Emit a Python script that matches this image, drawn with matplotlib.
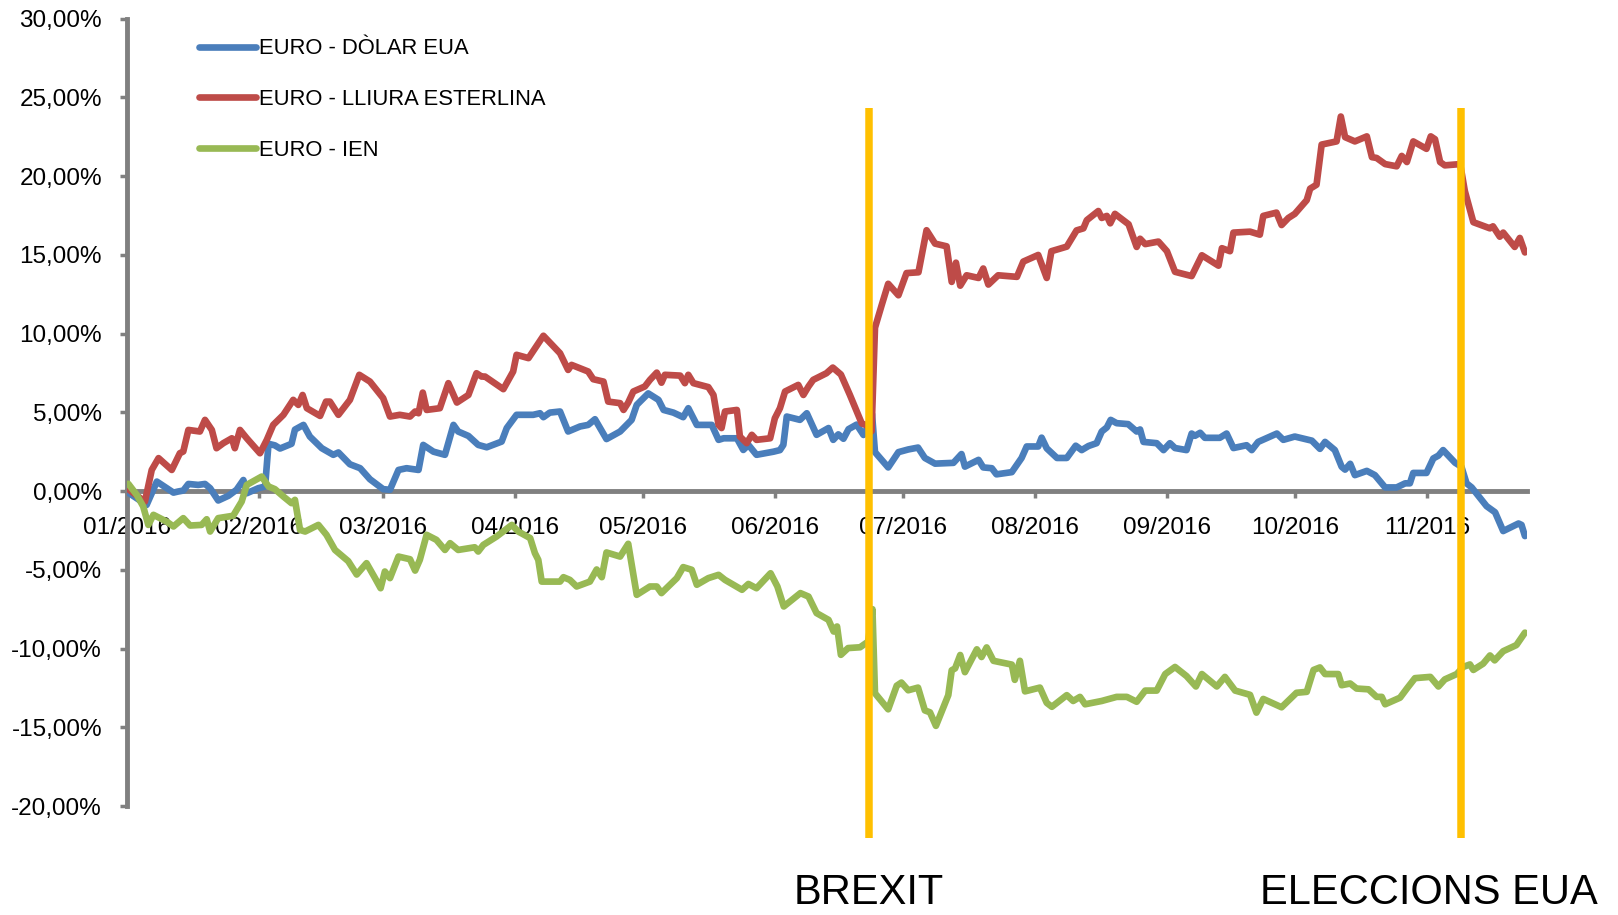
import pandas as pd
import matplotlib
matplotlib.use("Agg")
import matplotlib.pyplot as plt
import matplotlib.dates as mdates
import matplotlib.transforms as mtransforms
from matplotlib import font_manager

# Series: days since 1 Jan 2016, change vs start in %
usd_days = [0.3, 4.6, 7, 10.9, 12, 13.2, 14.4, 16.7, 18.3, 19.5, 21.4, 23.8, 25.7, 27.3, 28.1, 30.8, 32.4, 33.2,
            34.7, 35.9, 38.6, 39.4, 41.4, 42.9, 45.7, 48.4, 49.6, 52.3, 54.7, 57, 60.1, 61.7, 63.7, 65.6, 68.4,
            69.5, 71.9, 74.6, 76.6, 77.7, 80.1, 82.4, 84.4, 87.9, 89.1, 91.4, 95.3, 96.9, 97.7, 99.2, 101.6,
            103.5, 106.3, 108.2, 109.8, 111, 112.5, 115.7, 118.4, 119.6, 122.3, 124.7, 125.9, 128.2, 130.5,
            131.7, 133.7, 137.2, 138.8, 140, 143.1, 144.6, 145.8, 147.7, 151.7, 153.2, 154, 154.8, 157.9, 159.5,
            161.8, 164.6, 165.7, 166.9, 168.1, 169.3, 171.2, 172.8, 174, 174.8, 175.5, 178.6, 181, 183.3, 185.6,
            187.2, 189.6, 193.9, 195.8, 196.6, 199.8, 200.9, 202.9, 204, 207.6, 209.9, 211.1, 213.8, 214.6,
            215.8, 218.2, 220.5, 222.6, 224, 225.6, 227.5, 228.7, 229.9, 230.8, 232.2, 234.9, 236.9, 237.7,
            238.5, 241.6, 243.2, 244.7, 245.9, 248.6, 249.8, 250.6, 251.8, 252.9, 256.4, 258, 259.6, 262.7,
            263.9, 265.4, 269.8, 271.3, 274, 278, 279.9, 281.1, 283.4, 285, 285.8, 287, 288.1, 290.9, 292.8,
            295.2, 297.9, 299.9, 301, 301.8, 304.9, 306.5, 307.7, 308.8, 311.6, 313.1, 314.3, 315.5, 319, 321,
            322.9, 326.5, 327.2, 328]
usd_vals = [-0.1, -0.88, 0.6, -0.1, -0.03, 0.03, 0.45, 0.39, 0.45, 0.18, -0.6, -0.3, 0.08, 0.7, -0.14, 0.18, 0.29,
            3.0, 2.9, 2.7, 3.0, 3.9, 4.2, 3.46, 2.72, 2.3, 2.45, 1.7, 1.45, 0.75, 0.12, 0.08, 1.34, 1.45, 1.34,
            2.93, 2.5, 2.3, 4.2, 3.78, 3.5, 2.93, 2.78, 3.14, 4.0, 4.84, 4.84, 4.94, 4.69, 4.98, 5.05, 3.78, 4.1,
            4.2, 4.56, 4.0, 3.3, 3.78, 4.52, 5.47, 6.2, 5.79, 5.15, 4.98, 4.69, 5.26, 4.2, 4.2, 3.25, 3.35, 3.35,
            2.61, 2.93, 2.3, 2.5, 2.6, 2.93, 4.73, 4.52, 4.94, 3.57, 4.0, 3.25, 3.6, 3.32, 3.93, 4.22, 3.56, 4.17,
            4.9, 2.47, 1.5, 2.47, 2.64, 2.76, 2.1, 1.74, 1.79, 2.35, 1.55, 1.98, 1.5, 1.45, 1.06, 1.2, 2.1, 2.83,
            2.83, 3.39, 2.71, 2.1, 2.1, 2.88, 2.6, 2.86, 3.04, 3.78, 4.04, 4.52, 4.31, 4.25, 3.78, 3.91, 3.12,
            3.04, 2.6, 3.04, 2.73, 2.6, 3.65, 3.51, 3.7, 3.38, 3.38, 3.65, 2.73, 2.91, 2.6, 3.12, 3.65, 3.25,
            3.46, 3.2, 2.68, 3.12, 2.6, 1.54, 1.36, 1.73, 1.01, 1.28, 1.01, 0.23, 0.23, 0.49, 0.49, 1.15, 1.15,
            2.07, 2.25, 2.6, 1.8, 1.54, 0.49, 0.23, -0.96, -1.35, -2.54, -2.06, -2.15, -2.86]

gbp_days = [0.3, 4.2, 5.8, 7.4, 10.5, 12.4, 13.2, 14.4, 17.1, 18.3, 19.9, 21, 22.6, 24.6, 25.3, 26.5, 28.1, 31.2,
            32.8, 34.3, 36.7, 39, 40.2, 41.2, 42.2, 45.3, 46.7, 47.6, 49.6, 52.3, 54.5, 57, 60.1, 61.7, 64, 66.4,
            67.6, 68.4, 69.4, 70.3, 73.4, 75.4, 77.4, 80.1, 82, 83.2, 84, 88.3, 90.6, 91.4, 94.2, 97.7, 101.6,
            103.5, 104.3, 108.2, 109.4, 111.8, 112.9, 115.7, 116.5, 117.6, 118.8, 121.5, 122.7, 124.3, 125.4,
            126.2, 129.8, 130.9, 131.7, 132.9, 136.4, 137.6, 138.8, 139.5, 140.3, 143.1, 143.8, 145.4, 146.6,
            147.7, 150.9, 152, 153.2, 154.4, 157.5, 158.7, 159.9, 161, 164.1, 165.6, 167.5, 169.6, 172.4, 173.6,
            174.7, 175.5, 177.1, 178.6, 181, 182.9, 185.7, 187.6, 189.6, 192.3, 193.5, 194.5, 195.5, 197, 199.8,
            200.9, 202.1, 204.4, 208.8, 210.3, 213.8, 215.8, 216.9, 220.5, 222.8, 224.4, 225.2, 227.9, 228.7,
            229.9, 230.7, 231.8, 235, 236.9, 237.7, 238.9, 242, 244, 245.9, 249.8, 252.2, 256.1, 256.9, 258.8,
            259.6, 263.5, 265.8, 266.6, 269.7, 270.9, 272.5, 274, 276.8, 277.6, 279.1, 280.3, 283.8, 284.8,
            285.8, 288.1, 290.9, 292.1, 293.2, 295.2, 297.9, 299.1, 300.3, 301.8, 304.9, 305.9, 306.9, 308.1,
            309.2, 312.8, 313.9, 315.9, 319.8, 320.5, 322.1, 322.9, 325.6, 326.8, 328]
gbp_vals = [0.12, -0.67, 1.34, 2.09, 1.34, 2.4, 2.51, 3.88, 3.78, 4.52, 3.88, 2.72, 3.04, 3.35, 2.72, 3.88, 3.35,
            2.4, 3.25, 4.2, 4.84, 5.79, 5.47, 6.1, 5.26, 4.77, 5.68, 5.68, 4.84, 5.79, 7.38, 6.95, 5.9, 4.73, 4.84,
            4.73, 5.05, 4.94, 6.25, 5.15, 5.26, 6.85, 5.62, 6.1, 7.48, 7.27, 7.27, 6.47, 7.59, 8.65, 8.44, 9.86,
            8.75, 7.69, 8.01, 7.59, 7.1, 6.95, 5.68, 5.58, 5.15, 5.62, 6.32, 6.64, 7.06, 7.52, 6.88, 7.38, 7.33,
            6.85, 7.38, 6.85, 6.6, 6.1, 4.2, 4.0, 5.05, 5.15, 3.46, 3.04, 3.57, 3.25, 3.35, 4.62, 5.26, 6.32,
            6.74, 6.1, 6.64, 7.06, 7.48, 7.84, 7.4, 6.11, 4.29, 4.17, 3.8, 10.37, 11.83, 13.16, 12.43, 13.84,
            13.89, 16.56, 15.71, 15.54, 13.28, 14.5, 13.04, 13.7, 13.53, 14.13, 13.11, 13.7, 13.6, 14.57, 14.99,
            13.53, 15.23, 15.52, 16.55, 16.68, 17.2, 17.78, 17.34, 17.47, 17.0, 17.6, 16.94, 15.5, 16.02, 15.68,
            15.84, 15.23, 13.92, 13.65, 14.97, 14.31, 15.42, 15.23, 16.41, 16.47, 16.28, 17.47, 17.68, 16.89,
            17.34, 17.6, 18.47, 19.2, 19.45, 22.0, 22.2, 23.78, 22.47, 22.2, 22.52, 21.2, 21.15, 20.76, 20.62,
            21.28, 20.89, 22.2, 21.73, 22.52, 22.34, 20.89, 20.68, 20.76, 19.05, 17.07, 16.68, 16.81, 16.15,
            16.41, 15.5, 16.07, 15.15]

jpy_days = [0.3, 2.3, 3.8, 5, 6.2, 9.3, 10.9, 13.2, 14.8, 17.5, 18.7, 19.5, 21.4, 24.9, 26.9, 28.1, 31.6, 33.2,
            34.7, 36.7, 38.6, 39.4, 40.6, 41.8, 44.9, 46.8, 48.8, 51.9, 53.9, 56.2, 58.2, 59.5, 60.5, 61.7, 63.7,
            66.4, 67.6, 68.7, 70.3, 72.6, 74.6, 75.8, 77.7, 81.6, 82.4, 83.6, 86.7, 90.3, 91.8, 94.6, 95.7, 96.5,
            97.3, 101.6, 102.4, 103.9, 105.5, 108.6, 110.2, 111.4, 112.5, 115.7, 117.6, 119.6, 122.7, 124.3,
            125.4, 129, 130.5, 132.5, 133.7, 136.4, 138.8, 140.3, 144.3, 145.8, 147.7, 151, 152.6, 154.1, 158,
            159.9, 161.8, 164.6, 165.8, 166.6, 167.5, 169.2, 172, 173.9, 174.9, 175.5, 178.6, 180.6, 181.7, 183.3,
            185.6, 187.2, 188.4, 189.8, 192.7, 193.5, 194.3, 195.5, 196.6, 199.4, 200.5, 201.7, 203.3, 207.6,
            208.3, 209.5, 210.7, 214.2, 215.8, 217, 220.5, 222, 223.6, 224.8, 228.7, 232.2, 234.6, 236.9, 238.9,
            241.6, 243.6, 245.9, 248.6, 250.8, 252.2, 255.7, 257.6, 260, 263.5, 265, 266.6, 270.9, 274.4, 276.8,
            278.4, 279.9, 281.1, 284.2, 285, 287, 288.5, 291.3, 293.2, 294.4, 295.2, 298.7, 300.3, 302.2, 305.8,
            307.7, 309.2, 312, 313.5, 315.1, 315.9, 318.2, 319.8, 320.9, 322.9, 326, 328]
jpy_vals = [0.46, -0.25, -0.98, -2.15, -1.51, -1.94, -2.25, -1.72, -2.19, -2.15, -1.79, -2.57, -1.72, -1.57, -0.67,
            0.39, 0.92, 0.29, 0.12, -0.35, -0.77, -0.56, -2.47, -2.57, -2.15, -2.78, -3.74, -4.45, -5.3, -4.58,
            -5.53, -6.17, -5.11, -5.53, -4.16, -4.33, -5.05, -4.37, -2.78, -3.1, -3.74, -3.31, -3.74, -3.57, -3.84,
            -3.42, -2.89, -2.15, -2.57, -2.99, -3.94, -4.37, -5.75, -5.75, -5.47, -5.64, -6.06, -5.75, -4.98,
            -5.47, -3.9, -4.16, -3.35, -6.59, -6.06, -6.06, -6.48, -5.53, -4.83, -5.0, -5.95, -5.53, -5.32, -5.64,
            -6.27, -5.9, -6.17, -5.22, -6.06, -7.33, -6.48, -6.7, -7.75, -8.18, -8.92, -8.6, -10.4, -9.97, -9.92,
            -9.56, -7.5, -12.84, -13.86, -12.36, -12.16, -12.65, -12.48, -13.93, -14.05, -14.91, -12.96, -11.38,
            -11.26, -10.41, -11.5, -10.05, -10.54, -9.93, -10.78, -11.02, -11.99, -10.78, -12.72, -12.48, -13.45,
            -13.7, -12.96, -13.33, -13.07, -13.54, -13.33, -13.07, -13.07, -13.38, -12.67, -12.67, -11.62, -11.17,
            -11.75, -12.41, -11.62, -12.41, -11.8, -12.67, -12.94, -14.07, -13.2, -13.73, -12.81, -12.75, -11.36,
            -11.2, -11.62, -11.62, -12.33, -12.22, -12.54, -12.59, -13.07, -13.07, -13.54, -13.12, -12.54, -11.88,
            -11.8, -12.41, -11.96, -11.62, -11.17, -11.01, -11.36, -10.96, -10.44, -10.75, -10.17, -9.78, -8.99]

labels = ["EURO - DÒLAR EUA", "EURO - LLIURA ESTERLINA", "EURO - IEN"]
colors = ["#4A7EBB", "#BE4B48", "#98B954"]

event_dates = ["2016-06-23", "2016-11-09"]
event_labels = ["BREXIT", "ELECCIONS EUA"]
event_span = [-22.0, 24.3]  # vertical extent of the marker bars, in % units

start = pd.Timestamp("2016-01-01")


def to_dates(days):
    return start + pd.to_timedelta(days, unit="D")


plt.rcParams["font.family"] = ["Liberation Sans", "DejaVu Sans"]
available = {f.name for f in font_manager.fontManager.ttflist}
narrow = "Liberation Sans Narrow" in available

fig = plt.figure(figsize=(16.18, 9.15), dpi=100)
ax = fig.add_axes([0.0785, 0.1191, 0.8653, 0.8606])

for days, vals, lab, col in zip([usd_days, gbp_days, jpy_days], [usd_vals, gbp_vals, jpy_vals], labels, colors):
    ax.plot(to_dates(days), vals, color=col, lw=4.8, label=lab,
            solid_joinstyle="round", solid_capstyle="round", zorder=3)

for d in event_dates:
    ax.plot([pd.Timestamp(d)] * 2, event_span, color="#FFC000", lw=5.4,
            solid_capstyle="butt", clip_on=False, zorder=4)

ax.set_xlim(start, start + pd.Timedelta(days=328.5))
ax.set_ylim(-20, 30)
ax.set_yticks(range(-20, 31, 5))
ax.yaxis.set_major_formatter(plt.FuncFormatter(lambda v, p: f"{v:.2f}%".replace(".", ",")))
ax.xaxis.set_major_locator(mdates.MonthLocator())
ax.xaxis.set_major_formatter(mdates.DateFormatter("%m/%Y"))

for s in ["top", "right"]:
    ax.spines[s].set_visible(False)
ax.spines["bottom"].set_position(("data", 0))
for s in ["left", "bottom"]:
    ax.spines[s].set_color("#808080")
    ax.spines[s].set_linewidth(3.5)
    ax.spines[s].set_zorder(2)
ax.tick_params(axis="y", length=5, width=2.5, color="#808080", pad=13, labelsize=17.5)
ax.tick_params(axis="x", length=5, width=2.5, color="#808080", pad=13.5, labelsize=17.5)

leg = ax.legend(loc="upper left", bbox_to_anchor=(0.123, 0.958), bbox_transform=fig.transFigure,
                frameon=False, fontsize=15.8, handlelength=2.6, handletextpad=0.15,
                labelspacing=1.35, borderpad=0, borderaxespad=0)
for h in leg.get_lines():
    h.set_linewidth(4.8)
    h.set_solid_capstyle("round")

ev_font = "Liberation Sans Narrow" if narrow else "Liberation Sans"
ev_size = 33 if narrow else 30
trans = mtransforms.blended_transform_factory(ax.transData, fig.transFigure)
ax.text(pd.Timestamp(event_dates[0]), 0.012, event_labels[0], transform=trans, ha="center",
        va="baseline", fontsize=ev_size, family=ev_font)
fig.text(0.9876, 0.012, event_labels[1], ha="right", va="baseline", fontsize=ev_size, family=ev_font)

fig.savefig("out.png", dpi=100)
